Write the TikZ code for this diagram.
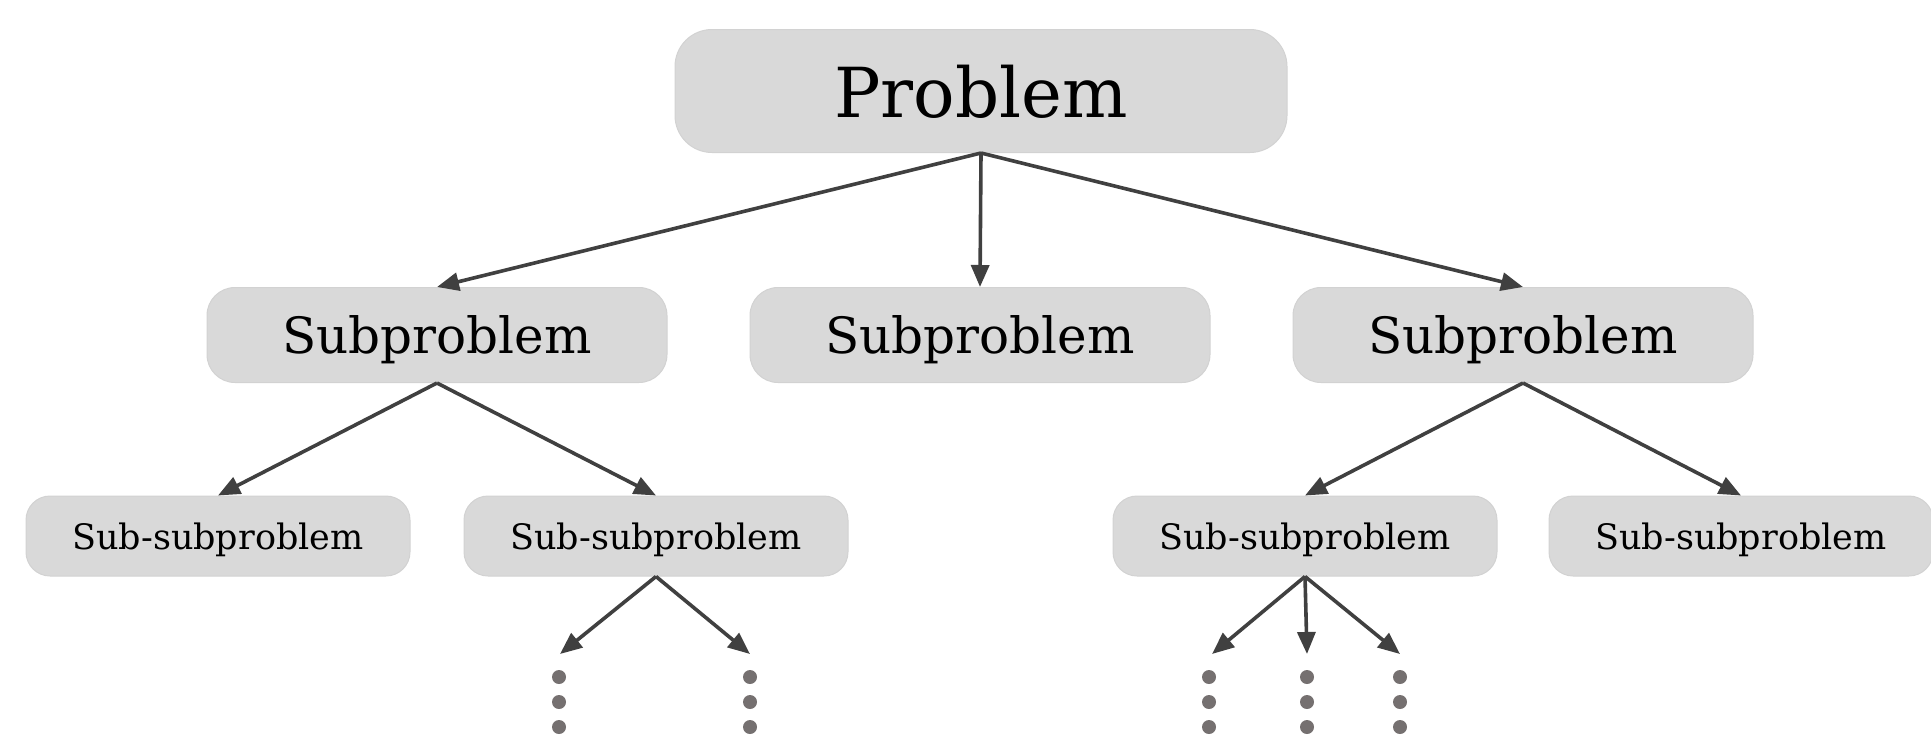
\documentclass[tikz,border=0pt]{standalone}
\usepackage{fontspec}
\setmainfont{DejaVu Serif}
\usetikzlibrary{arrows.meta}
\definecolor{boxfill}{HTML}{D9D9D9}
\definecolor{boxline}{HTML}{D2D2D2}
\definecolor{arrowc}{HTML}{404040}
\definecolor{dotc}{HTML}{757070}
\newcommand{\lowr}[2]{\raisebox{-#1}[\height][\depth]{#2}}
\tikzset{
  base/.style={fill=boxfill, draw=boxline, line width=1pt, inner sep=0pt, anchor=center},
  probbox/.style={base, minimum width=612pt, minimum height=123pt, rounded corners=37pt,
    font=\fontsize{69}{69}\selectfont},
  subbox/.style={base, minimum width=460pt, minimum height=95pt, rounded corners=28pt,
    font=\fontsize{50}{50}\selectfont},
  ssbox/.style={base, minimum width=384pt, minimum height=80pt, rounded corners=24pt,
    font=\fontsize{35}{35}\selectfont},
  conn/.style={draw=arrowc, line width=3.6pt, -{Triangle[length=22pt,width=18pt]}},
  dotn/.style={circle, fill=dotc, inner sep=0pt, minimum size=14pt}
}
\begin{document}
\begin{tikzpicture}[x=1pt,y=-1pt]
\useasboundingbox (0,0) rectangle (1931,734);
\node[probbox] (P) at (981,91) {\lowr{1pt}{Problem}};
\node[subbox] (S1) at (437,335) {\lowr{5pt}{Subproblem}};
\node[subbox] (S2) at (980,335) {\lowr{5pt}{Subproblem}};
\node[subbox] (S3) at (1523,335) {\lowr{5pt}{Subproblem}};
\node[ssbox] (A1) at (218,536) {\lowr{4pt}{Sub-subproblem}};
\node[ssbox] (A2) at (656,536) {\lowr{4pt}{Sub-subproblem}};
\node[ssbox] (A3) at (1305,536) {\lowr{4pt}{Sub-subproblem}};
\node[ssbox] (A4) at (1741,536) {\lowr{4pt}{Sub-subproblem}};
\coordinate (e1) at (560,654);
\coordinate (e2) at (750,654);
\coordinate (e3) at (1212,654);
\coordinate (e4) at (1307,654);
\coordinate (e5) at (1400,654);
\draw[conn] (P.south) -- (S1.north);
\draw[conn] (P.south) -- (S2.north);
\draw[conn] (P.south) -- (S3.north);
\draw[conn] (S1.south) -- (A1.north);
\draw[conn] (S1.south) -- (A2.north);
\draw[conn] (S3.south) -- (A3.north);
\draw[conn] (S3.south) -- (A4.north);
\draw[conn] (A2.south) -- (e1);
\draw[conn] (A2.south) -- (e2);
\draw[conn] (A3.south) -- (e3);
\draw[conn] (A3.south) -- (e4);
\draw[conn] (A3.south) -- (e5);
\foreach \x/\n in {559/a,750/b,1209/c,1307/d,1400/e}{
  \node[dotn] (d\n1) at (\x,677) {};
  \node[dotn] (d\n2) at (\x,702) {};
  \node[dotn] (d\n3) at (\x,727) {};
}
\end{tikzpicture}
\end{document}
